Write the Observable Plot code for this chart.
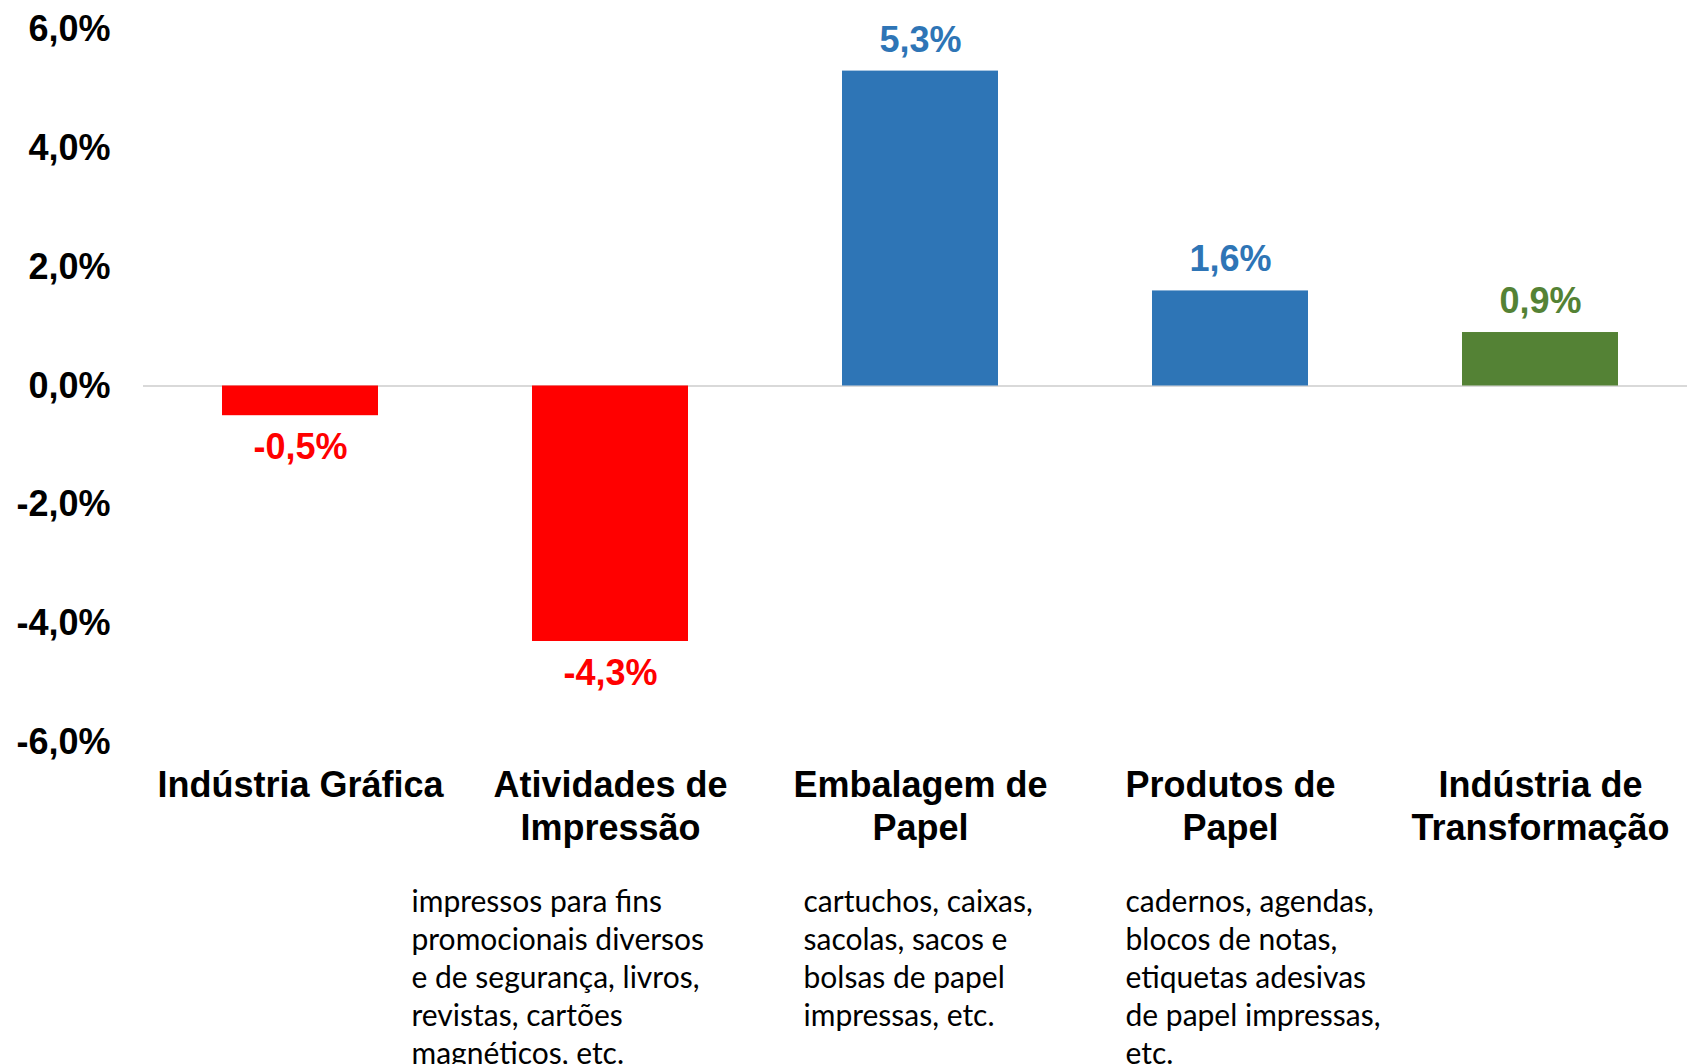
<!DOCTYPE html>
<html><head><meta charset="utf-8">
<script src="https://cdn.jsdelivr.net/npm/d3@7"></script>
<script src="https://cdn.jsdelivr.net/npm/@observablehq/plot@0.6"></script>
<style>body{margin:0;background:#fff;overflow:hidden;}</style>
</head><body><div id="chart"></div>
<script>
const categories = ["Indústria Gráfica", "Atividades de\nImpressão", "Embalagem de\nPapel", "Produtos de\nPapel", "Indústria de\nTransformação"];
const values = [-0.5, -4.3, 5.3, 1.6, 0.9];
const groups = ["queda", "queda", "alta", "alta", "total"];
const yTicks = [-6, -4, -2, 0, 2, 4, 6];
const descAtividades = "impressos para fins\npromocionais diversos\ne de segurança, livros,\nrevistas, cartões\nmagnéticos, etc.";
const descEmbalagem = "cartuchos, caixas,\nsacolas, sacos e\nbolsas de papel\nimpressas, etc.";
const descProdutos = "cadernos, agendas,\nblocos de notas,\netiquetas adesivas\nde papel impressas,\netc.";

const data = categories.map((c, i) => ({cat: c, value: values[i], group: groups[i]}));
const fmt = d => d.toFixed(1).replace(".", ",") + "%";

const descMark = (cat, text, dx) => Plot.text([{cat, text}], {
  x: "cat", text: "text", frameAnchor: "bottom", lineAnchor: "top", textAnchor: "start",
  dx, dy: 143, fontSize: 30, lineHeight: 1.26, fontFamily: "Lato", fill: "#000"
});

const chart = Plot.plot({
  width: 1687, height: 1064,
  marginTop: 29, marginBottom: 322, marginLeft: 143, marginRight: 0,
  style: {fontFamily: "'Liberation Sans', Arial, sans-serif", background: "#fff", overflow: "visible"},
  x: {domain: categories, range: [143, 1697], paddingInner: 0.498, paddingOuter: 0.25, axis: null},
  y: {domain: [-6, 6], label: null},
  color: {domain: ["queda", "alta", "total"], range: ["#FF0000", "#2E75B6", "#548235"]},
  marks: [
    Plot.axisY({ticks: yTicks, tickFormat: fmt, tickSize: 0, tickPadding: 33, fontSize: 36, fontWeight: "bold", fill: "#000", label: null}),
    Plot.ruleY([0], {stroke: "#D9D9D9", strokeWidth: 2}),
    Plot.barY(data, {x: "cat", y1: 0, y2: "value", fill: "group"}),
    Plot.text(data.filter(d => d.value >= 0), {x: "cat", y: "value", text: d => fmt(d.value), fill: "group", dy: -31, fontSize: 36, fontWeight: "bold"}),
    Plot.text(data.filter(d => d.value < 0), {x: "cat", y: "value", text: d => fmt(d.value), fill: "group", dy: 32, fontSize: 36, fontWeight: "bold"}),
    Plot.text(data, {x: "cat", text: "cat", frameAnchor: "bottom", lineAnchor: "top", dy: 25, fontSize: 36, fontWeight: "bold", lineHeight: 1.17, fill: "#000"}),
    descMark(categories[1], descAtividades, -199),
    descMark(categories[2], descEmbalagem, -117),
    descMark(categories[3], descProdutos, -105)
  ]
});
document.getElementById("chart").append(chart);
</script>
</body></html>
